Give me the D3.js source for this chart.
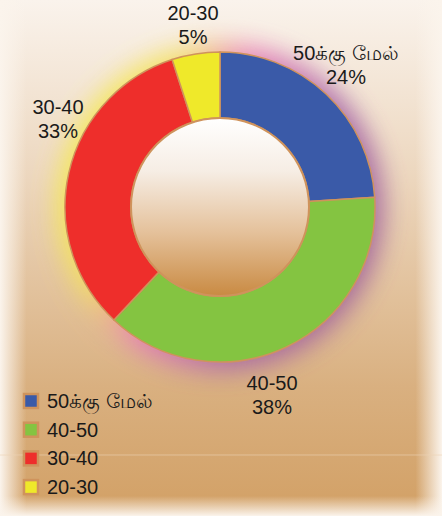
<!DOCTYPE html>
<html>
<head>
<meta charset="utf-8">
<script src="https://cdn.jsdelivr.net/npm/d3@7"></script>
<style>
  body { margin: 0; }
  svg { display: block; font-family: "Liberation Sans", "Noto Sans", sans-serif; }
</style>
</head>
<body>
<svg id="chart" width="442" height="516"></svg>
<script>
const categories = ["50க்கு மேல்", "40-50", "30-40", "20-30"];
const values = [24, 38, 33, 5];
const colors = ["#3a5aa8", "#84c441", "#ee2e2b", "#efe92a"];
const pctLabels = ["24%", "38%", "33%", "5%"];

const svg = d3.select("#chart");
const w = 442, h = 516;
const cx = 220, cy = 207, rOuter = 155, rInner = 89;
const edge = "#cf935c";

const defs = svg.append("defs");

// background gradients
const bg = defs.append("linearGradient").attr("id", "bg").attr("x1", 0).attr("y1", 0).attr("x2", 0).attr("y2", 1);
bg.append("stop").attr("offset", "0%").attr("stop-color", "#faf3ec");
bg.append("stop").attr("offset", "35%").attr("stop-color", "#ecd6bd");
bg.append("stop").attr("offset", "75%").attr("stop-color", "#d9b080");
bg.append("stop").attr("offset", "100%").attr("stop-color", "#d2a065");

const side = defs.append("linearGradient").attr("id", "side").attr("x1", 0).attr("y1", 0).attr("x2", 1).attr("y2", 0);
side.append("stop").attr("offset", "0%").attr("stop-color", "#fbf4ec").attr("stop-opacity", 1);
side.append("stop").attr("offset", "6%").attr("stop-color", "#fbf4ec").attr("stop-opacity", 0);
side.append("stop").attr("offset", "94%").attr("stop-color", "#fbf4ec").attr("stop-opacity", 0);
side.append("stop").attr("offset", "100%").attr("stop-color", "#fbf4ec").attr("stop-opacity", 1);

const bottom = defs.append("linearGradient").attr("id", "bottom").attr("x1", 0).attr("y1", 0).attr("x2", 0).attr("y2", 1);
bottom.append("stop").attr("offset", "0%").attr("stop-color", "#fbf4ec").attr("stop-opacity", 0);
bottom.append("stop").attr("offset", "100%").attr("stop-color", "#fbf4ec").attr("stop-opacity", 1);

const glow = defs.append("linearGradient").attr("id", "glow").attr("x1", 0).attr("y1", 0.2).attr("x2", 1).attr("y2", 0.6);
glow.append("stop").attr("offset", "0%").attr("stop-color", "#f6ee50");
glow.append("stop").attr("offset", "28%").attr("stop-color", "#f4e060");
glow.append("stop").attr("offset", "45%").attr("stop-color", "#e97cb8");
glow.append("stop").attr("offset", "72%").attr("stop-color", "#a866a8");
glow.append("stop").attr("offset", "100%").attr("stop-color", "#a0629a");

defs.append("filter").attr("id", "blur").attr("x", "-40%").attr("y", "-40%").attr("width", "180%").attr("height", "180%")
  .append("feGaussianBlur").attr("stdDeviation", 13);

const hole = defs.append("linearGradient").attr("id", "hole").attr("x1", 0).attr("y1", 0).attr("x2", 0).attr("y2", 1);
hole.append("stop").attr("offset", "0%").attr("stop-color", "#ffffff");
hole.append("stop").attr("offset", "30%").attr("stop-color", "#f6ede4");
hole.append("stop").attr("offset", "65%").attr("stop-color", "#e4c099");
hole.append("stop").attr("offset", "100%").attr("stop-color", "#c98a42");

svg.append("rect").attr("width", w).attr("height", h).attr("fill", "url(#bg)");
svg.append("rect").attr("width", w).attr("height", h).attr("fill", "url(#side)");
svg.append("rect").attr("y", h - 20).attr("width", w).attr("height", 20).attr("fill", "url(#bottom)");
svg.append("line").attr("x1", 0).attr("x2", w).attr("y1", 455).attr("y2", 455)
  .attr("stroke", "#ecd2b4").attr("stroke-width", 1).attr("opacity", 0.6);

// glow halo behind the donut
svg.append("circle").attr("cx", cx).attr("cy", cy).attr("r", rOuter + 8)
  .attr("fill", "url(#glow)").attr("filter", "url(#blur)").attr("opacity", 0.95);

const data = categories.map((c, i) => ({ cat: c, value: values[i], color: colors[i], pct: pctLabels[i] }));

const pie = d3.pie().value(d => d.value).sort(null);
const arc = d3.arc().innerRadius(rInner).outerRadius(rOuter);

const g = svg.append("g").attr("transform", `translate(${cx},${cy})`);
g.selectAll("path")
  .data(pie(data))
  .enter()
  .append("path")
  .attr("d", arc)
  .attr("fill", d => d.data.color)
  .attr("stroke", edge)
  .attr("stroke-width", 1.5);

g.append("circle").attr("r", rInner).attr("fill", "url(#hole)")
  .attr("stroke", edge).attr("stroke-width", 2);

// slice labels: [x, y of first line]
const labelPos = [[346, 60], [272, 390], [58, 114], [193, 20]];
const labels = svg.append("g").attr("fill", "#1a1a1a").attr("font-size", 20).attr("text-anchor", "middle");
data.forEach((d, i) => {
  const t = labels.append("text").attr("x", labelPos[i][0]).attr("y", labelPos[i][1]);
  t.append("tspan").attr("x", labelPos[i][0]).text(d.cat);
  t.append("tspan").attr("x", labelPos[i][0]).attr("dy", 24).text(d.pct);
});

// legend
const legend = svg.append("g").attr("transform", "translate(23,393)");
const row = legend.selectAll("g").data(data).enter().append("g")
  .attr("transform", (d, i) => `translate(0,${i * 28.7})`);
row.append("rect").attr("x", 1).attr("y", 1).attr("width", 14).attr("height", 14)
  .attr("fill", d => d.color).attr("stroke", edge).attr("stroke-width", 2.5);
row.append("text").attr("x", 24).attr("y", 15).attr("font-size", 20).attr("fill", "#1a1a1a")
  .text(d => d.cat);
</script>
</body>
</html>
